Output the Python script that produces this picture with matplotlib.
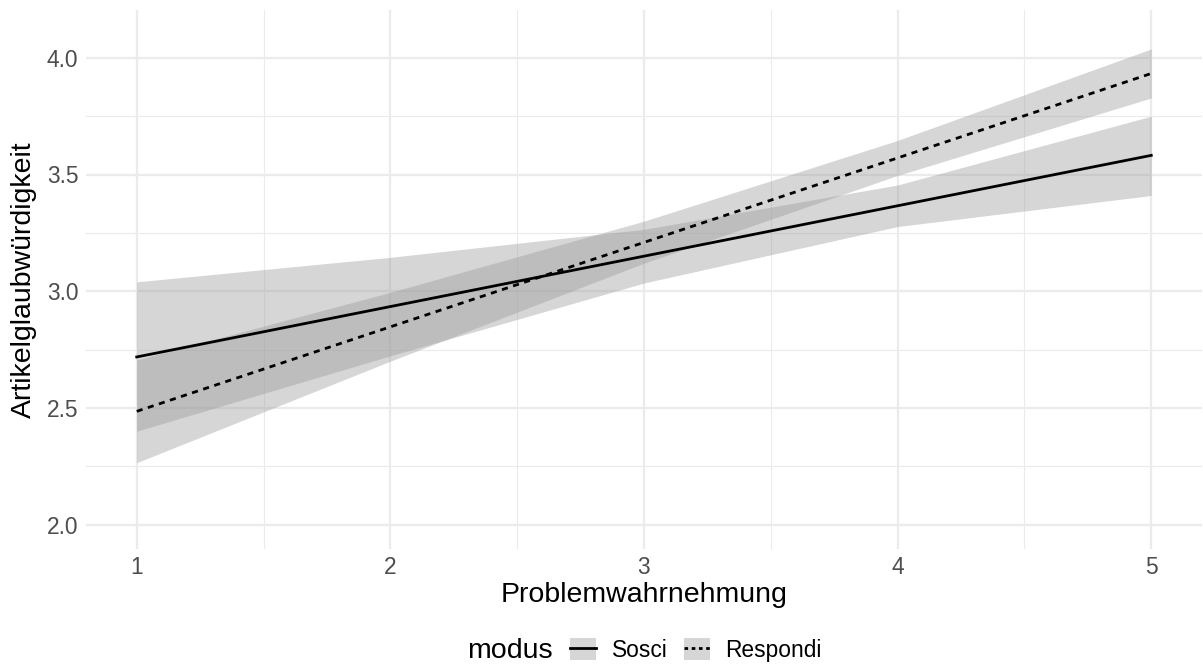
import numpy as np
import matplotlib
matplotlib.use("Agg")
import matplotlib.pyplot as plt
from matplotlib.lines import Line2D
from matplotlib.patches import Patch
from matplotlib.legend_handler import HandlerTuple

plt.rcParams['font.family'] = ['Liberation Sans', 'DejaVu Sans']

# Vorhergesagte Werte (lm) mit Konfidenzband je Erhebungsmodus
problem = [1, 2, 3, 4, 5]

sosci_fit = [2.718, 2.934, 3.150, 3.366, 3.582]
sosci_lower = [2.400, 2.723, 3.035, 3.277, 3.410]
sosci_upper = [3.040, 3.145, 3.265, 3.455, 3.750]

respondi_fit = [2.485, 2.847, 3.209, 3.571, 3.933]
respondi_lower = [2.265, 2.700, 3.120, 3.496, 3.828]
respondi_upper = [2.705, 2.995, 3.300, 3.646, 4.038]

x_ticks = [1, 2, 3, 4, 5]
y_ticks = [2.0, 2.5, 3.0, 3.5, 4.0]

fig = plt.figure(figsize=(12.03, 6.68), dpi=100)
ax = fig.add_axes([86 / 1203, 1 - 549 / 668, (1202 - 86) / 1203, (549 - 10) / 668])

band = dict(color='#999999', alpha=0.4, linewidth=0)
ax.fill_between(problem, sosci_lower, sosci_upper, **band, zorder=2)
ax.fill_between(problem, respondi_lower, respondi_upper, **band, zorder=2)
ax.plot(problem, sosci_fit, color='black', lw=2.0, zorder=3)
ax.plot(problem, respondi_fit, color='black', lw=2.0, ls=(0, (2.2, 2.0)), zorder=3)

# theme_minimal-artige Achsen
ax.set_xlim(0.8, 5.2)
ax.set_ylim(2.0 - 0.105, 4.1 + 0.105)
ax.set_xticks(x_ticks)
ax.set_yticks(y_ticks)
ax.set_xticks([1.5, 2.5, 3.5, 4.5], minor=True)
ax.set_yticks([2.25, 2.75, 3.25, 3.75], minor=True)
ax.set_yticklabels([f'{v:.1f}' for v in y_ticks])
ax.grid(which='major', color='#EBEBEB', lw=1.6, zorder=0)
ax.grid(which='minor', color='#EBEBEB', lw=0.8, zorder=0)
ax.set_axisbelow(True)
for s in ax.spines.values():
    s.set_visible(False)
ax.tick_params(which='both', length=0, labelsize=16.4, labelcolor='#4D4D4D')
ax.tick_params(axis='y', pad=5.5)
ax.tick_params(axis='x', pad=5)

ax.set_xlabel('Problemwahrnehmung', fontsize=20.5, labelpad=2)
ax.set_ylabel('Artikelglaubwürdigkeit', fontsize=20.5, labelpad=7)

# Legende unten, Titel links daneben
key_bg = '#D6D6D6'
h_sosci = (Patch(facecolor=key_bg, edgecolor='none'), Line2D([], [], color='black', lw=2.0))
h_resp = (Patch(facecolor=key_bg, edgecolor='none'),
          Line2D([], [], color='black', lw=2.0, ls=(0, (1.3, 1.3))))
fig.text(510 / 1203, 1 - 651 / 668, 'modus', fontsize=20.5, ha='center', va='center')
leg = fig.legend([h_sosci, h_resp], ['Sosci', 'Respondi'], ncol=2, frameon=False,
                 loc='center left', bbox_to_anchor=(570 / 1203, 1 - 650 / 668),
                 fontsize=16.4, handlelength=1.14, handleheight=1.1, handletextpad=0.7,
                 columnspacing=0.7, borderpad=0, borderaxespad=0,
                 handler_map={tuple: HandlerTuple(ndivide=1, pad=0)})

fig.savefig('out.png', dpi=100, facecolor='white')
